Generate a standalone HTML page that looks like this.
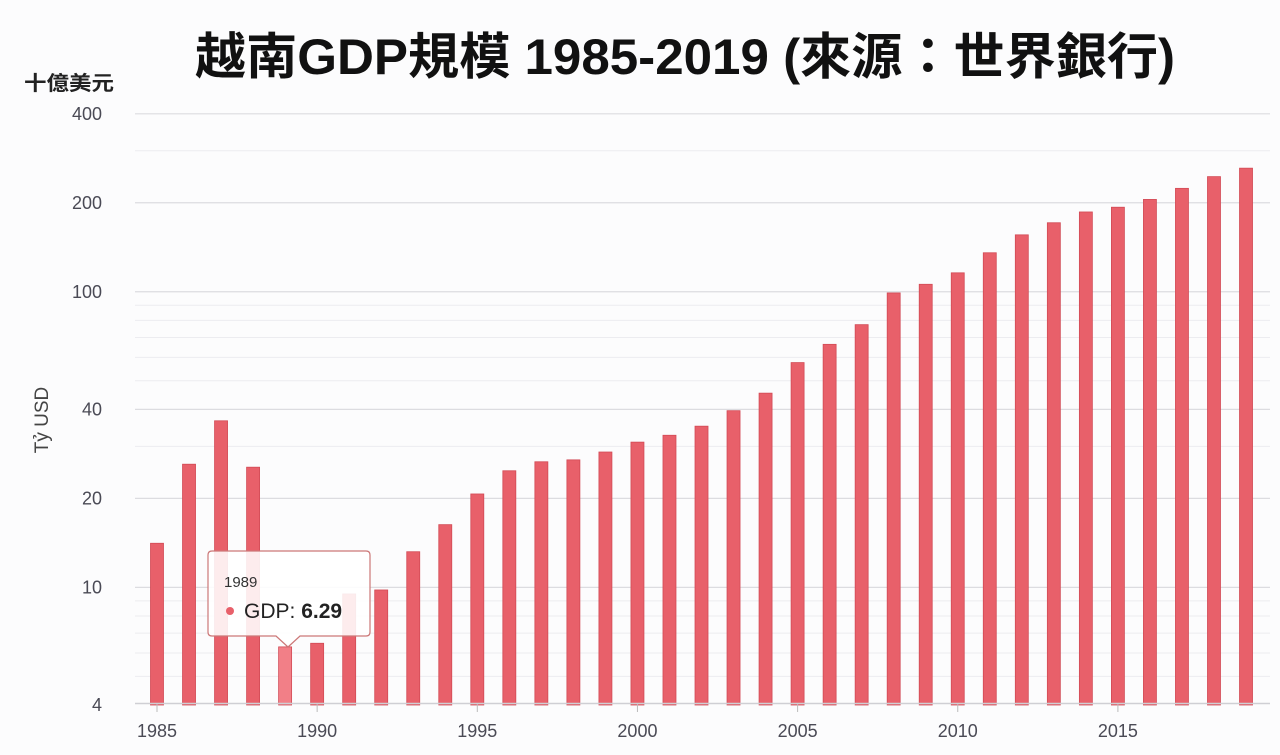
<!DOCTYPE html>
<html><head><meta charset="utf-8"><style>
body{margin:0;background:#fff;}
svg{display:block;font-family:"Liberation Sans","Noto Sans CJK TC",sans-serif;}
</style></head><body>
<svg id="chart" width="1280" height="755" viewBox="0 0 1280 755">
<rect width="1280" height="755" fill="#fcfcfd"/>
<text x="685" y="74" text-anchor="middle" font-size="50" font-weight="bold" fill="#111" textLength="980" lengthAdjust="spacingAndGlyphs" font-family="Liberation Sans,Noto Sans CJK TC,sans-serif">越南GDP規模 1985-2019 (來源：世界銀行)</text>
<text x="24" y="90" font-size="20" font-weight="bold" fill="#222" textLength="90" lengthAdjust="spacingAndGlyphs">十億美元</text>
<text transform="translate(48,420) rotate(-90)" text-anchor="middle" font-size="19" fill="#444">Tỷ USD</text>
<g id="grid"></g><g id="bars"></g><g id="axes"></g>
<g>
<path d="M212,551 H366 Q370,551 370,555 V632 Q370,636 366,636 H300 L288,647 L276,636 H212 Q208,636 208,632 V555 Q208,551 212,551 Z" fill="rgba(255,255,255,0.88)" stroke="#c77" stroke-width="1.2"/>
<text x="224" y="587" font-size="15" fill="#333">1989</text>
<circle cx="230" cy="611" r="4" fill="#e8606a"/>
<text x="244" y="618" font-size="21" fill="#222">GDP: <tspan font-weight="bold">6.29</tspan></text>
</g>
</svg>
<script>
const years=[1985,1986,1987,1988,1989,1990,1991,1992,1993,1994,1995,1996,1997,1998,1999,2000,2001,2002,2003,2004,2005,2006,2007,2008,2009,2010,2011,2012,2013,2014,2015,2016,2017,2018,2019];
const gdp=[14.1,26.1,36.6,25.5,6.29,6.47,9.5,9.8,13.2,16.3,20.7,24.8,26.6,27.0,28.7,31.0,32.7,35.1,39.6,45.4,57.6,66.4,77.4,99.1,106,115.9,135.5,155.8,171.2,186.2,193.2,205.3,223.8,245.2,261.9];
const majorTicks=[4,10,20,40,100,200,400];
const minorTicks=[5,6,7,8,9,30,50,60,70,80,90,300];
const xTicks=[1985,1990,1995,2000,2005,2010,2015];
const NS='http://www.w3.org/2000/svg';
function y(v){return 705-295.6*Math.log10(v/4);}
function x(yr){return 157+(yr-1985)*32.03;}
function mk(tag,attrs,parent){const e=document.createElementNS(NS,tag);for(const k in attrs)e.setAttribute(k,attrs[k]);document.getElementById(parent).appendChild(e);return e;}
minorTicks.forEach(v=>{const l=mk('line',{x1:135,x2:1270,y1:y(v),y2:y(v),stroke:'#ececf0','stroke-width':1},'grid');

});
majorTicks.forEach(v=>{if(v!==4){const l=mk('line',{x1:135,x2:1270,y1:y(v),y2:y(v),stroke:'#dcdce0','stroke-width':1.2},'grid');

}
const t=mk('text',{x:102,y:y(v)+6,'text-anchor':'end','font-size':18,fill:'#4a4a55'},'axes');t.textContent=v;

});
years.forEach((yr,i)=>{const top=y(gdp[i]);const r=mk('rect',{x:x(yr)-6.5,y:top,width:13,height:705-top,fill:yr===1989?'#f27f87':'#e8606a',stroke:'#d24a55','stroke-width':0.8},'bars');

});
const base=mk('line',{x1:135,x2:1270,y1:703.5,y2:703.5,stroke:'#cfcfd4','stroke-width':1.5},'axes');


xTicks.forEach(yr=>{const tk=mk('line',{x1:x(yr),x2:x(yr),y1:704,y2:712,stroke:'#bbb'},'axes');


const t=mk('text',{x:x(yr),y:737,'text-anchor':'middle','font-size':18,fill:'#4a4a55'},'axes');t.textContent=yr;

});
</script>
</body></html>
